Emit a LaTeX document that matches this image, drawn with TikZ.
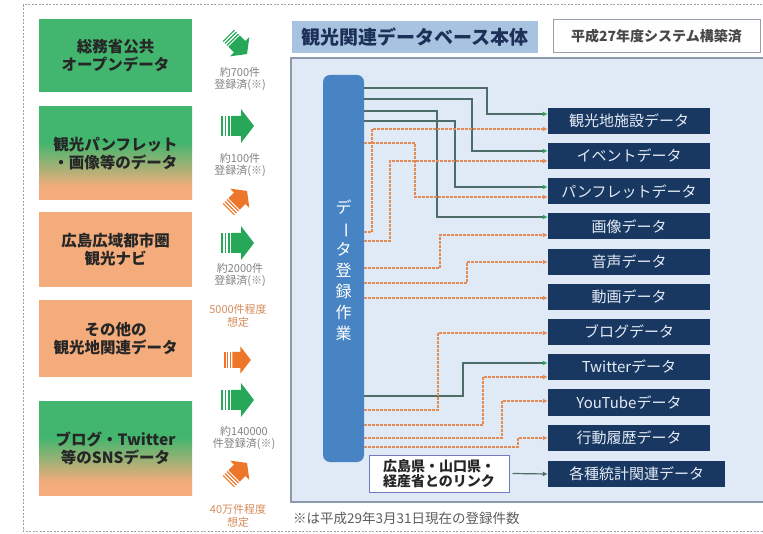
\documentclass[tikz,border=0pt]{standalone}
\usepackage{fontspec}
\setmainfont{Noto Sans CJK JP}
\usetikzlibrary{arrows.meta}
\definecolor{grnbox}{RGB}{66,182,110}
\definecolor{orgbox}{RGB}{244,172,124}
\definecolor{arrg}{RGB}{38,168,88}
\definecolor{arro}{RGB}{238,118,42}
\definecolor{panelf}{RGB}{223,234,246}
\definecolor{paneld}{RGB}{140,152,172}
\definecolor{titlef}{RGB}{168,195,223}
\definecolor{titlet}{RGB}{28,48,88}
\definecolor{barc}{RGB}{72,132,196}
\definecolor{navy}{RGB}{24,56,98}
\definecolor{tgttext}{RGB}{228,234,244}
\definecolor{solc}{RGB}{78,108,104}
\definecolor{dshc}{RGB}{228,138,82}
\definecolor{srctext}{RGB}{38,38,38}
\definecolor{notec}{RGB}{130,130,130}
\definecolor{noteo}{RGB}{214,140,90}
\definecolor{bordc}{RGB}{150,160,175}
\pgfdeclareverticalshading{gradbox}{100bp}{color(0bp)=(orgbox); color(32bp)=(orgbox); color(56bp)=(grnbox); color(100bp)=(grnbox)}
\tikzset{
  srcbox/.style={minimum width=153pt, inner sep=0pt, align=center, text=srctext,
    font=\fontsize{15.5}{18}\selectfont\bfseries},
  tgt/.style={fill=navy, minimum width=162pt, minimum height=26pt, inner sep=0pt,
    text=tgttext, font=\fontsize{15}{18}\selectfont},
  sol/.style={draw=solc, line width=1.3pt, -{Latex[length=5pt,width=5pt,color=arrg]}},
  dsh/.style={draw=dshc, line width=1.3pt, dash pattern=on 2.5pt off 1.5pt,
    -{Latex[length=5pt,width=5pt,color=dshc]}},
  note/.style={font=\fontsize{11}{12.5}\selectfont, text=notec, align=center, inner sep=0pt},
  noteor/.style={note, text=noteo},
  pics/blk/.style={code={
    \fill (-17,-10) rectangle (-15.5,10);
    \fill (-13.5,-10) rectangle (-12,10);
    \fill (-10,-10) rectangle (-8.5,10);
    \fill (-7,-10) -- (3,-10) -- (3,-17) -- (16,0) -- (3,17) -- (3,10) -- (-7,10) -- cycle;
  }},
}
\begin{document}
\begin{tikzpicture}[x=1pt,y=-1pt]
\useasboundingbox (0,0) rectangle (763,534);
\clip (0,0) rectangle (763,534);
\fill[white] (0,0) rectangle (763,534);
% outer dashed border
\draw[bordc, dash pattern=on 2pt off 1.5pt, line width=1pt] (23,5) rectangle (780,531);

% source boxes
\node[srcbox, fill=grnbox, minimum height=73pt] (s1) at (115.5,55.5) {総務省公共\\オープンデータ};
\node[srcbox, shading=gradbox, minimum height=93pt] (s2) at (115.5,153.5) {観光パンフレット\\・画像等のデータ};
\node[srcbox, fill=orgbox, minimum height=75pt] (s3) at (115.5,249.5) {広島広域都市圏\\観光ナビ};
\node[srcbox, fill=orgbox, minimum height=77pt] (s4) at (115.5,338.5) {その他の\\観光地関連データ};
\node[srcbox, shading=gradbox, minimum height=93pt] (s5) at (115.5,448.5) {ブログ・Twitter\\等のSNSデータ};

% block arrows
\pic[fill=arrg, rotate=-45, scale=0.8] at (238,45) {blk};
\pic[fill=arrg] at (238,126) {blk};
\pic[fill=arro, rotate=45, scale=0.8] at (238,200) {blk};
\pic[fill=arrg] at (238,243) {blk};
\pic[fill=arro, scale=0.8] at (238,360) {blk};
\pic[fill=arrg] at (238,400) {blk};
\pic[fill=arro, rotate=45, scale=0.8] at (238,472) {blk};

% notes
\node[note] (n1) at (240,79) {約700件\\登録済(※)};
\node[note] (n2) at (240,165) {約100件\\登録済(※)};
\node[note] (n3) at (240,275) {約2000件\\登録済(※)};
\node[noteor] (n4) at (238,316) {5000件程度\\想定};
\node[note] (n5) at (244,438) {約140000\\件登録済(※)};
\node[noteor] (n6) at (238,516) {40万件程度\\想定};

% main panel
\draw[paneld, fill=panelf, line width=1.2pt] (291,58) rectangle (780,502);
\node[fill=titlef, minimum width=246pt, minimum height=32pt, inner sep=0pt,
  text=titlet, font=\fontsize{19}{22}\selectfont\bfseries] (title) at (415,37) {観光関連データベース本体};
\node[draw=bordc, fill=white!96!panelf, line width=1pt, minimum width=207pt, minimum height=33pt,
  inner sep=0pt, text=srctext!85, font=\fontsize{14}{16}\selectfont\bfseries] (built) at (656.5,36.5) {平成27年度システム構築済};

% registration bar
\node[fill=barc, rounded corners=7pt, minimum width=41pt, minimum height=387pt, inner sep=0pt] (bar) at (343.5,268.5) {};
\node[text=white, font=\fontsize{16}{21}\selectfont, align=center, inner sep=0pt] (bt) at (343.5,270)
  {デ\\\rotatebox[origin=c]{-90}{ー}\\タ\\登\\録\\作\\業};

% target boxes
\node[tgt] (t1) at (629,121) {観光地施設データ};
\node[tgt] (t2) at (629,156) {イベントデータ};
\node[tgt] (t3) at (629,191.5) {パンフレットデータ};
\node[tgt] (t4) at (629,226.5) {画像データ};
\node[tgt] (t5) at (629,262) {音声データ};
\node[tgt] (t6) at (629,297) {動画データ};
\node[tgt] (t7) at (629,332) {ブログデータ};
\node[tgt] (t8) at (629,367) {Twitterデータ};
\node[tgt] (t9) at (629,402.5) {YouTubeデータ};
\node[tgt] (t10) at (629,437.5) {行動履歴データ};
\node[tgt, minimum width=177pt] (t11) at (636.5,474) {各種統計関連データ};

% link box
\node[draw=paneld!80!blue, fill=white, line width=1pt, minimum width=140pt, minimum height=37pt,
  inner sep=0pt, align=left, text=srctext, font=\fontsize{14}{15.5}\selectfont\bfseries] (link) at (439,473.5)
  {広島県・山口県・\\経産省とのリンク};

% solid connectors
\draw[sol] (bar.east |- 0,88) -| (487,114) -- (t1.west |- 0,114);
\draw[sol] (bar.east |- 0,99) -| (472,151) -- (t2.west |- 0,151);
\draw[sol] (bar.east |- 0,111) -| (437,217) -- (t4.west |- 0,217);
\draw[sol] (bar.east |- 0,121) -| (455,187) -- (t3.west |- 0,187);
\draw[sol] (bar.east |- 0,396) -| (463,363) -- (t8.west |- 0,363);

% dashed connectors
\draw[dsh] (bar.east |- 0,232) -| (372,129) -- (t1.west |- 0,129);
\draw[dsh] (bar.east |- 0,143) -| (415,197) -- (t3.west |- 0,197);
\draw[dsh] (bar.east |- 0,241) -| (390,161) -- (t2.west |- 0,161);
\draw[dsh] (bar.east |- 0,268) -| (440,235) -- (t4.west |- 0,235);
\draw[dsh] (bar.east |- 0,283) -| (467,262) -- (t5.west |- 0,262);
\draw[dsh] (bar.east |- 0,298) -- (t6.west |- 0,298);
\draw[dsh] (bar.east |- 0,410) -| (438,333) -- (t7.west |- 0,333);
\draw[dsh] (bar.east |- 0,425) -| (483,377) -- (t8.west |- 0,377);
\draw[dsh] (bar.east |- 0,438) -| (502,401) -- (t9.west |- 0,401);
\draw[dsh] (bar.east |- 0,447) -| (518,438) -- (t10.west |- 0,438);

% link arrow
\draw[draw=solc, line width=1.2pt, -{Latex[length=5pt,width=5pt,color=solc]}] (link.east) ++(3,0) coordinate (le) (le) -- (t11.west);

% footnote
\node[anchor=west, inner sep=0pt, text=srctext!75, font=\fontsize{13.5}{15}\selectfont] (foot) at (293,518) {※は平成29年3月31日現在の登録件数};
\end{tikzpicture}
\end{document}
